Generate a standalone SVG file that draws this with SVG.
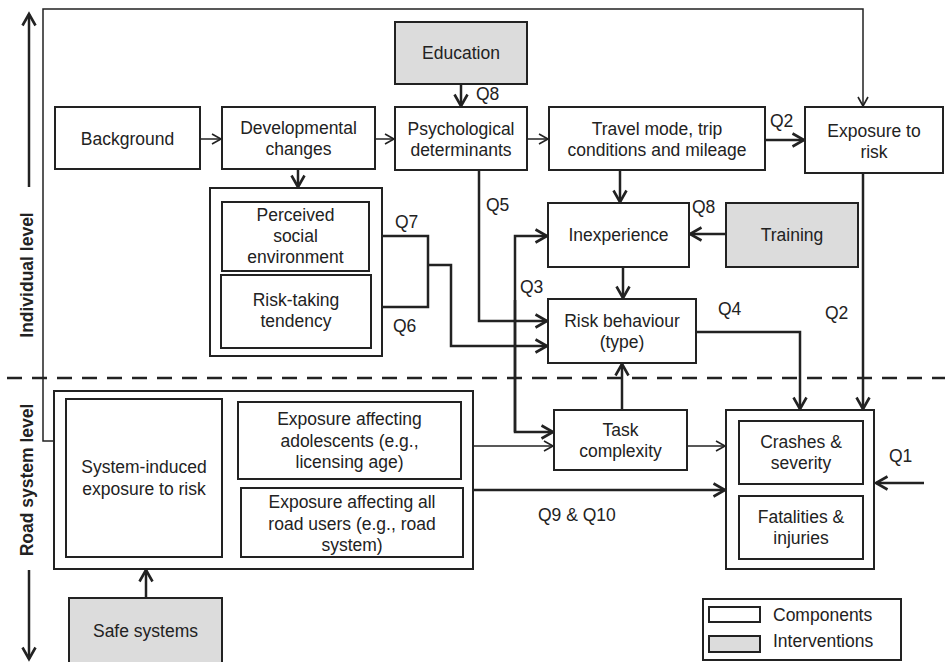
<svg xmlns="http://www.w3.org/2000/svg" width="947" height="662" viewBox="0 0 947 662">
<defs>
<style>
.b{fill:#fff;stroke:#222;stroke-width:2}
.g{fill:#dcdcdc;stroke:#222;stroke-width:2}
text{font-family:"Liberation Sans",Arial,sans-serif;font-size:17.5px;fill:#222;text-anchor:middle}
.q{text-anchor:start}
.lv{font-weight:bold}
.t{fill:none;stroke:#222;stroke-width:1.5}
.k{fill:none;stroke:#222;stroke-width:2.5}
</style>
<marker id="at" markerUnits="userSpaceOnUse" viewBox="0 0 12 12" refX="10" refY="6" markerWidth="12" markerHeight="12" orient="auto">
<path d="M1,1 L10,6 L1,11" fill="none" stroke="#222" stroke-width="1.6"/>
</marker>
<marker id="ak" markerUnits="userSpaceOnUse" viewBox="0 0 16 16" refX="13" refY="8" markerWidth="16" markerHeight="16" orient="auto">
<path d="M1.5,1.5 L13,8 L1.5,14.5" fill="none" stroke="#222" stroke-width="2.6"/>
</marker>
</defs>

<g id="levels">
<line x1="29" y1="187" x2="29" y2="14" class="k" marker-end="url(#ak)"/>
<line x1="29" y1="570" x2="29" y2="659" class="k" marker-end="url(#ak)"/>
<text class="lv" transform="translate(33,275) rotate(-90)">Individual level</text>
<text class="lv" transform="translate(33,480) rotate(-90)">Road system level</text>
<line x1="7" y1="378" x2="945" y2="378" stroke="#222" stroke-width="2.5" stroke-dasharray="15 10"/>
</g>

<g id="connectors">
<polyline class="t" points="54,441 43,441 43,9 863,9 863,106" marker-end="url(#at)"/>
<line class="t" x1="200" y1="139" x2="221" y2="139" marker-end="url(#at)"/>
<line class="t" x1="375" y1="139" x2="394" y2="139" marker-end="url(#at)"/>
<line class="t" x1="527" y1="139" x2="548" y2="139" marker-end="url(#at)"/>
<line class="k" x1="765" y1="140" x2="804" y2="140" marker-end="url(#ak)"/>
<line class="k" x1="461" y1="84" x2="461" y2="106" marker-end="url(#ak)"/>
<line class="k" x1="298" y1="169" x2="298" y2="187" marker-end="url(#ak)"/>
<polyline class="k" points="382,236 428,236 428,307 382,307"/>
<polyline class="k" points="428,265 451,265 451,346 547,346" marker-end="url(#ak)"/>
<polyline class="k" points="479,170 479,321 547,321" marker-end="url(#ak)"/>
<polyline class="k" points="515,432 515,236 547,236" marker-end="url(#ak)"/>
<polyline class="k" points="515,300 515,432 553,432" marker-end="url(#ak)"/>
<line class="k" x1="620" y1="170" x2="620" y2="202" marker-end="url(#ak)"/>
<line class="k" x1="726" y1="234" x2="690" y2="234" marker-end="url(#ak)"/>
<line class="k" x1="623" y1="267" x2="623" y2="298" marker-end="url(#ak)"/>
<polyline class="k" points="696,332 800,332 800,409" marker-end="url(#ak)"/>
<line class="k" x1="863" y1="173" x2="863" y2="409" marker-end="url(#ak)"/>
<line class="k" x1="622" y1="410" x2="622" y2="364" marker-end="url(#ak)"/>
<line class="t" x1="687" y1="446" x2="725" y2="446" marker-end="url(#at)"/>
<line class="t" x1="473" y1="446" x2="553" y2="446" marker-end="url(#at)"/>
<line class="k" x1="473" y1="490" x2="725" y2="490" marker-end="url(#ak)"/>
<line class="k" x1="924" y1="483" x2="876" y2="483" marker-end="url(#ak)"/>
<line class="k" x1="218" y1="432" x2="237" y2="432" marker-end="url(#ak)"/>
<line class="k" x1="222" y1="500" x2="240" y2="500" marker-end="url(#ak)"/>
<line class="k" x1="146" y1="598" x2="146" y2="570" marker-end="url(#ak)"/>
<text class="q" x="770" y="127">Q2</text>
<text class="q" x="476" y="100">Q8</text>
<text class="q" x="395" y="228">Q7</text>
<text class="q" x="393" y="332">Q6</text>
<text class="q" x="486" y="211">Q5</text>
<text class="q" x="520" y="293">Q3</text>
<text class="q" x="692" y="213">Q8</text>
<text class="q" x="718" y="315">Q4</text>
<text class="q" x="825" y="319">Q2</text>
<text class="q" x="889" y="462">Q1</text>
<text class="q" x="538" y="521">Q9 &amp; Q10</text>
</g>

<g id="background"><rect class="b" x="55" y="107" width="145" height="62"/><text x="127.5" y="145">Background</text></g>
<g id="developmental"><rect class="b" x="222" y="107" width="153" height="62"/><text x="298.5" y="134">Developmental</text><text x="298.5" y="155">changes</text></g>
<g id="education"><rect class="g" x="395" y="22" width="132" height="62"/><text x="461" y="59">Education</text></g>
<g id="psychological"><rect class="b" x="395" y="107" width="132" height="63"/><text x="461" y="135">Psychological</text><text x="461" y="156">determinants</text></g>
<g id="travel"><rect class="b" x="549" y="107" width="216" height="63"/><text x="657" y="135">Travel mode, trip</text><text x="657" y="156">conditions and mileage</text></g>
<g id="exposure"><rect class="b" x="805" y="107" width="138" height="66"/><text x="874" y="137">Exposure to</text><text x="874" y="158">risk</text></g>
<g id="personal">
<rect class="b" x="210" y="188" width="172" height="168"/>
<g id="perceived"><rect class="b" x="222" y="202" width="147" height="69"/><text x="295.5" y="221">Perceived</text><text x="295.5" y="242">social</text><text x="295.5" y="263">environment</text></g>
<g id="risktaking"><rect class="b" x="221" y="275" width="150" height="73"/><text x="296" y="306">Risk-taking</text><text x="296" y="327">tendency</text></g>
</g>
<g id="inexperience"><rect class="b" x="548" y="203" width="141" height="64"/><text x="618.5" y="241">Inexperience</text></g>
<g id="training"><rect class="g" x="726" y="203" width="132" height="64"/><text x="792" y="241">Training</text></g>
<g id="riskbehaviour"><rect class="b" x="548" y="299" width="148" height="64"/><text x="622" y="327">Risk behaviour</text><text x="622" y="348">(type)</text></g>
<g id="task"><rect class="b" x="554" y="410" width="133" height="60"/><text x="620.5" y="436">Task</text><text x="620.5" y="457">complexity</text></g>
<g id="outcomes">
<rect class="b" x="726" y="410" width="148" height="159"/>
<g id="crashes"><rect class="b" x="739" y="421" width="124" height="63"/><text x="801" y="448">Crashes &amp;</text><text x="801" y="469">severity</text></g>
<g id="fatalities"><rect class="b" x="739" y="496" width="124" height="63"/><text x="801" y="523">Fatalities &amp;</text><text x="801" y="544">injuries</text></g>
</g>
<g id="roadsystem">
<rect class="b" x="54" y="391" width="419" height="178"/>
<g id="systeminduced"><rect class="b" x="66" y="399" width="156" height="158"/><text x="144" y="473">System-induced</text><text x="144" y="495">exposure to risk</text></g>
<g id="adolescents"><rect class="b" x="238" y="402" width="223" height="77"/><text x="349.5" y="425">Exposure affecting</text><text x="349.5" y="447">adolescents (e.g.,</text><text x="349.5" y="468">licensing age)</text></g>
<g id="allusers"><rect class="b" x="241" y="488" width="222" height="69"/><text x="352" y="508">Exposure affecting all</text><text x="352" y="530">road users (e.g., road</text><text x="352" y="551">system)</text></g>
</g>
<g id="safesystems"><rect class="g" x="69" y="598" width="153" height="70"/><text x="145.5" y="637">Safe systems</text></g>
<g id="legend">
<rect class="b" x="703" y="599" width="198" height="61"/>
<rect class="b" x="709" y="607" width="51" height="15"/>
<rect class="g" x="709" y="636" width="51" height="16"/>
<text class="q" x="773" y="621">Components</text>
<text class="q" x="773" y="647">Interventions</text>
</g>
</svg>
